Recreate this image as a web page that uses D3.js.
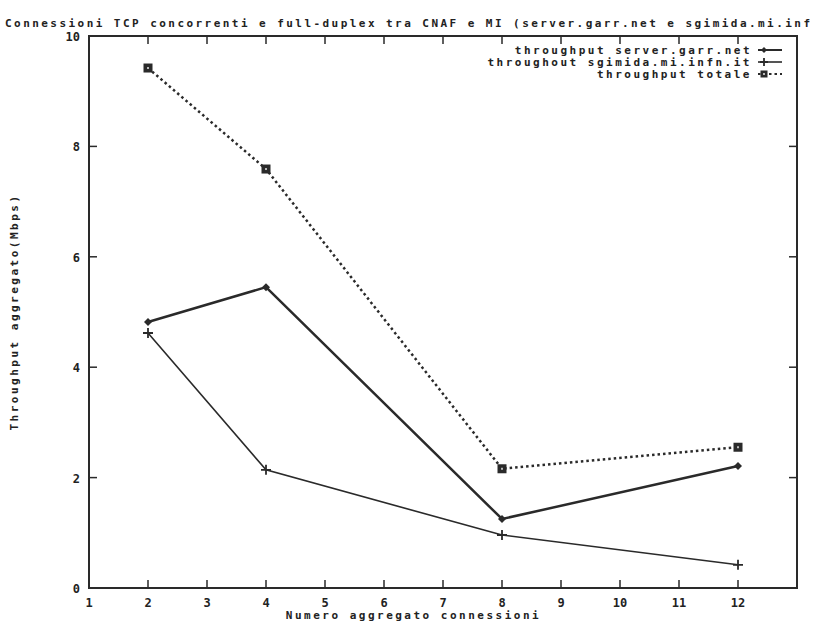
<!DOCTYPE html>
<html>
<head>
<meta charset="utf-8">
<script src="https://cdn.jsdelivr.net/npm/d3@7"></script>
<style>
  html, body { margin: 0; padding: 0; background: #fff; overflow: hidden; }
  svg { display: block; }
  text { font-family: "DejaVu Sans Mono", monospace; font-weight: bold; fill: #222; }
</style>
</head>
<body>
<div id="chart"></div>
<script>
// Data
const connections = [2, 4, 8, 12];
const serverGarr = [4.82, 5.45, 1.25, 2.21];
const sgimida = [4.62, 2.14, 0.96, 0.42];
const totale = [9.42, 7.59, 2.16, 2.55];
const xTicks = [1, 2, 3, 4, 5, 6, 7, 8, 9, 10, 11, 12];
const yTicks = [0, 2, 4, 6, 8, 10];

const width = 817, height = 623;
const margin = { top: 36, right: 20, bottom: 35, left: 89 };
const innerWidth = width - margin.left - margin.right;
const innerHeight = height - margin.top - margin.bottom;
const ink = "#2a2a2a";

const x = d3.scaleLinear().domain([1, 13]).range([margin.left, margin.left + innerWidth]);
const y = d3.scaleLinear().domain([0, 10]).range([margin.top + innerHeight, margin.top]);

const svg = d3.select("#chart").append("svg")
  .attr("width", width)
  .attr("height", height);

// Title, as far as the original shows it before the right edge
svg.append("text")
  .attr("x", 5)
  .attr("y", 27)
  .style("font-size", "11px")
  .style("letter-spacing", "2.45px")
  .text("Connessioni TCP concorrenti e full-duplex tra CNAF e MI (server.garr.net e sgimida.mi.inf");

// Border
svg.append("rect")
  .attr("x", margin.left).attr("y", margin.top)
  .attr("width", innerWidth).attr("height", innerHeight)
  .attr("fill", "none")
  .attr("stroke", ink)
  .attr("stroke-width", 2);

const tickLen = 8;
const x0 = margin.left, x1 = margin.left + innerWidth;
const y0 = margin.top + innerHeight, y1 = margin.top;

// X ticks (bottom and mirrored on top) + labels
xTicks.forEach((t) => {
  const px = x(t);
  if (t > 1) {
    svg.append("line").attr("x1", px).attr("x2", px)
      .attr("y1", y0).attr("y2", y0 - tickLen)
      .attr("stroke", ink).attr("stroke-width", 1.5);
    svg.append("line").attr("x1", px).attr("x2", px)
      .attr("y1", y1).attr("y2", y1 + tickLen)
      .attr("stroke", ink).attr("stroke-width", 1.5);
  }
  svg.append("text")
    .attr("x", px)
    .attr("y", y0 + 19)
    .attr("text-anchor", "middle")
    .style("font-size", "12px")
    .text(t);
});

// Y ticks (left and mirrored on right) + labels
yTicks.forEach((t) => {
  const py = y(t);
  if (t > 0 && t < 10) {
    svg.append("line").attr("x1", x0).attr("x2", x0 + tickLen)
      .attr("y1", py).attr("y2", py)
      .attr("stroke", ink).attr("stroke-width", 1.5);
    svg.append("line").attr("x1", x1).attr("x2", x1 - tickLen)
      .attr("y1", py).attr("y2", py)
      .attr("stroke", ink).attr("stroke-width", 1.5);
  }
  svg.append("text")
    .attr("x", x0 - 9)
    .attr("y", py + 5)
    .attr("text-anchor", "end")
    .style("font-size", "12px")
    .text(t);
});

// Axis titles
svg.append("text")
  .attr("x", x(6.5))
  .attr("y", 619)
  .attr("text-anchor", "middle")
  .style("font-size", "11px")
  .style("letter-spacing", "2.5px")
  .text("Numero aggregato connessioni");

svg.append("text")
  .attr("transform", `translate(18, ${margin.top + innerHeight / 2}) rotate(-90)`)
  .attr("text-anchor", "middle")
  .style("font-size", "11px")
  .style("letter-spacing", "2.5px")
  .text("Throughput aggregato(Mbps)");

// Series
const series = [
  { name: "throughput server.garr.net", values: serverGarr, width: 2.5, dash: null, marker: "diamond" },
  { name: "throughout sgimida.mi.infn.it", values: sgimida, width: 1.6, dash: null, marker: "plus" },
  { name: "throughput totale", values: totale, width: 2.5, dash: "2.5,3", marker: "square" },
];

const line = d3.line().x((d) => x(d[0])).y((d) => y(d[1]));

function drawMarker(sel, type, cx, cy, r) {
  if (type === "diamond") {
    sel.append("path")
      .attr("d", `M${cx},${cy - r}L${cx + r},${cy}L${cx},${cy + r}L${cx - r},${cy}Z`)
      .attr("fill", ink);
  } else if (type === "plus") {
    const p = r + 1;
    sel.append("path")
      .attr("d", `M${cx - p},${cy}H${cx + p}M${cx},${cy - p}V${cy + p}`)
      .attr("stroke", ink).attr("stroke-width", 1.8);
  } else {
    const h = r + 0.5;
    sel.append("rect")
      .attr("x", cx - h).attr("y", cy - h)
      .attr("width", h * 2).attr("height", h * 2)
      .attr("fill", ink);
    sel.append("rect")
      .attr("x", cx - 1).attr("y", cy - 1)
      .attr("width", 2).attr("height", 2)
      .attr("fill", "#bbb");
  }
}

series.forEach((s) => {
  const pts = connections.map((c, i) => [c, s.values[i]]);
  svg.append("path")
    .datum(pts)
    .attr("d", line)
    .attr("fill", "none")
    .attr("stroke", ink)
    .attr("stroke-width", s.width)
    .attr("stroke-dasharray", s.dash);
  pts.forEach((p) => drawMarker(svg, s.marker, x(p[0]), y(p[1]), 4));
});

// Legend
const legendRight = 752;
series.forEach((s, i) => {
  const ly = 50 + i * 12;
  svg.append("text")
    .attr("x", legendRight)
    .attr("y", ly + 4)
    .attr("text-anchor", "end")
    .style("font-size", "11px")
    .style("letter-spacing", "2.5px")
    .text(s.name);
  svg.append("line")
    .attr("x1", legendRight + 6).attr("x2", legendRight + 30)
    .attr("y1", ly).attr("y2", ly)
    .attr("stroke", ink)
    .attr("stroke-width", s.width === 2.5 ? 2 : 1.6)
    .attr("stroke-dasharray", s.dash);
  drawMarker(svg, s.marker, legendRight + 12, ly, 3);
});
</script>
</body>
</html>
